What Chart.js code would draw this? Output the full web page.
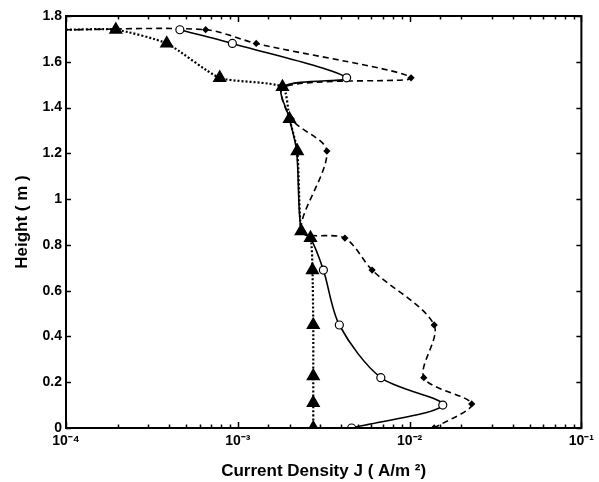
<!DOCTYPE html>
<html>
<head>
<meta charset="utf-8">
<script src="https://cdn.jsdelivr.net/npm/chart.js@4"></script>
<style>
  body { margin: 0; background: #fff; }
  #wrap { width: 599px; height: 482px; }
</style>
</head>
<body>
<div id="wrap"><canvas id="chartJ"></canvas></div>
<script>
// --- data ---
// solid line, open circles
const solidJ = [4.6e-4, 9.3e-4, 4.3e-3, 1.82e-3, 2.0e-3, 2.2e-3, 2.34e-3, 2.65e-3, 3.15e-3, 3.9e-3, 6.8e-3, 1.56e-2, 4.6e-3];
const solidH = [1.74, 1.68, 1.53, 1.49, 1.35, 1.21, 0.86, 0.83, 0.69, 0.45, 0.22, 0.10, 0];
const solidShow = [1, 1, 1, 0, 0, 0, 0, 0, 1, 1, 1, 1, 1];

// dashed line, small dots
const dashJ = [1e-4, 6.5e-4, 1.28e-3, 1.02e-2, 1.85e-3, 2.05e-3, 3.3e-3, 2.34e-3, 4.2e-3, 6.05e-3, 1.39e-2, 1.21e-2, 2.3e-2, 1.39e-2];
const dashH = [1.74, 1.74, 1.68, 1.53, 1.49, 1.35, 1.21, 0.86, 0.83, 0.69, 0.45, 0.22, 0.105, 0];
const dashShow = [0, 1, 1, 1, 1, 1, 1, 1, 1, 1, 1, 1, 1, 1];

// dotted line, filled triangles
const dotJ = [1e-4, 1.95e-4, 3.86e-4, 7.85e-4, 1.82e-3, 2.0e-3, 2.22e-3, 2.34e-3, 2.65e-3, 2.72e-3, 2.75e-3, 2.75e-3, 2.75e-3, 2.75e-3];
const dotH = [1.74, 1.74, 1.68, 1.53, 1.49, 1.35, 1.21, 0.86, 0.83, 0.69, 0.45, 0.227, 0.11, 0];
const dotShow = [0, 1, 1, 1, 1, 1, 1, 1, 1, 1, 1, 1, 1, 1];

const decades = [1e-4, 1e-3, 1e-2, 1e-1];
const decadeLabels = ['10\u207B\u2074', '10\u207B\u00B3', '10\u207B\u00B2', '10\u207B\u00B9'];
const heightTicks = [0, 0.2, 0.4, 0.6, 0.8, 1, 1.2, 1.4, 1.6, 1.8];

function pts(xs, ys) {
    return xs.map((x, i) => ({ x: x, y: ys[i] }));
}
function radii(show, r) {
    return show.map(s => s ? r : 0);
}
function isDecade(v) {
    const l = Math.log10(v);
    return Math.abs(l - Math.round(l)) < 1e-6;
}

// frame + inward tick marks like the original plot
const framePlugin = {
    id: 'frame',
    afterDraw(chart) {
        const c = chart.ctx;
        const a = chart.chartArea;
        const xs = chart.scales.x, ys = chart.scales.y;
        c.save();
        c.strokeStyle = '#000';
        c.lineWidth = 1.5;
        xs.ticks.forEach(t => {
            const px = Math.round(xs.getPixelForValue(t.value)) + 0.5;
            const len = isDecade(t.value) ? 6 : 3.5;
            c.beginPath();
            c.moveTo(px, a.bottom); c.lineTo(px, a.bottom - len);
            c.moveTo(px, a.top); c.lineTo(px, a.top + len);
            c.stroke();
        });
        heightTicks.forEach(v => {
            const py = Math.round(ys.getPixelForValue(v)) + 0.5;
            c.beginPath();
            c.moveTo(a.left, py); c.lineTo(a.left + 5, py);
            c.moveTo(a.right, py); c.lineTo(a.right - 5, py);
            c.stroke();
        });
        c.lineWidth = 2;
        c.strokeRect(a.left, a.top, a.right - a.left, a.bottom - a.top);
        c.restore();
    }
};

const ctx = document.getElementById('chartJ');
new Chart(ctx, {
    type: 'line',
    data: {
        datasets: [
            {
                label: 'dotted',
                data: pts(dotJ, dotH),
                borderColor: '#000',
                borderWidth: 2.2,
                borderDash: [2, 2],
                pointStyle: 'triangle',
                pointRadius: radii(dotShow, 6),
                pointBackgroundColor: '#000',
                pointBorderColor: '#000',
                tension: 0.2,
                order: 1
            },
            {
                label: 'solid',
                data: pts(solidJ, solidH),
                borderColor: '#000',
                borderWidth: 1.6,
                pointStyle: 'circle',
                pointRadius: radii(solidShow, 4),
                pointBackgroundColor: '#fff',
                pointBorderColor: '#000',
                pointBorderWidth: 1.2,
                tension: 0.3,
                order: 2
            },
            {
                label: 'dashed',
                data: pts(dashJ, dashH),
                borderColor: '#000',
                borderWidth: 1.6,
                borderDash: [6, 4],
                pointStyle: 'rectRot',
                pointRadius: radii(dashShow, 2.5),
                pointBackgroundColor: '#000',
                pointBorderColor: '#000',
                tension: 0.3,
                order: 3
            }
        ]
    },
    options: {
        responsive: true,
        maintainAspectRatio: false,
        animation: false,
        layout: { padding: { top: 16, right: 16, left: 0, bottom: 0 } },
        plugins: { legend: { display: false }, tooltip: { enabled: false } },
        scales: {
            x: {
                type: 'logarithmic',
                min: 1e-4,
                max: 1e-1,
                grid: { display: false, drawTicks: false },
                border: { display: false },
                afterFit(scale) { scale.height = 54; },
                ticks: {
                    autoSkip: false,
                    maxRotation: 0,
                    padding: 5,
                    color: '#000',
                    font: { family: 'Liberation Sans', size: 14, weight: 'bold' },
                    callback(v) {
                        const i = decades.findIndex(d => Math.abs(Math.log10(d) - Math.log10(v)) < 1e-6);
                        return i >= 0 ? decadeLabels[i] : '';
                    }
                },
                title: {
                    display: true,
                    text: 'Current Density J ( A/m \u00B2)',
                    color: '#000',
                    font: { family: 'Liberation Sans', size: 17, weight: 'bold' },
                    padding: { top: 6, bottom: 0 }
                }
            },
            y: {
                type: 'linear',
                min: 0,
                max: 1.8,
                grid: { display: false, drawTicks: false },
                border: { display: false },
                afterFit(scale) { scale.width = 66; },
                afterBuildTicks(scale) {
                    scale.ticks = heightTicks.map(v => ({ value: v }));
                },
                ticks: {
                    padding: 4,
                    color: '#000',
                    font: { family: 'Liberation Sans', size: 14, weight: 'bold' },
                    callback(v) { return String(Math.round(v * 10) / 10); }
                },
                title: {
                    display: true,
                    text: 'Height ( m )',
                    color: '#000',
                    font: { family: 'Liberation Sans', size: 17, weight: 'bold' },
                    padding: { top: 12, bottom: 0 }
                }
            }
        }
    },
    plugins: [framePlugin]
});
</script>
</body>
</html>
